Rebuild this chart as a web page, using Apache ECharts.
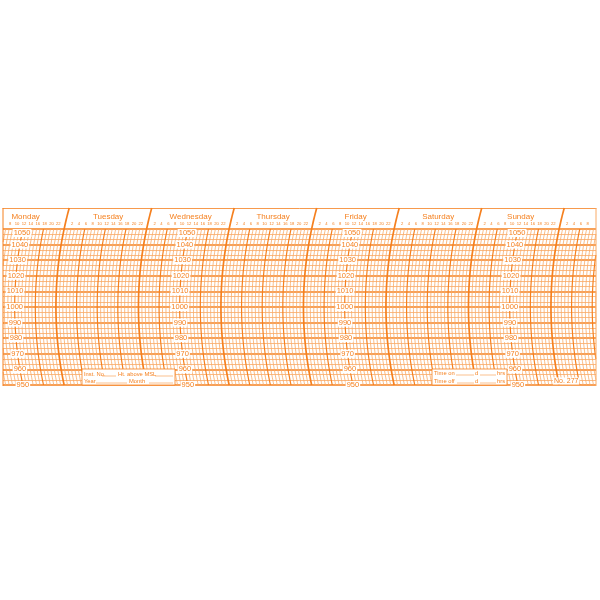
<!DOCTYPE html>
<html>
<head>
<meta charset="utf-8">
<script src="https://cdn.jsdelivr.net/npm/echarts@6/dist/echarts.min.js"></script>
<style>
html, body { margin: 0; background: #fff; }
#chart { width: 600px; height: 600px; }
</style>
</head>
<body>
<div id="chart"></div>
<script>
// weekly barograph chart, hours counted from Monday 00:00
var days = ['Monday', 'Tuesday', 'Wednesday', 'Thursday', 'Friday', 'Saturday', 'Sunday'];
var hourTicks = [2, 4, 6, 8, 10, 12, 14, 16, 18, 20, 22];
var pressureTicks = [1050, 1040, 1030, 1020, 1010, 1000, 990, 980, 970, 960, 950];
var scaleDays = [0, 2, 4, 6];          // days that carry the printed pressure scale (at noon)
var hourRange = [8.6, 181.1];          // part of the week visible on the strip
var chartNo = 'No. 277';

var ORANGE = '#f5801f';
var LIGHT = '#f9aa66';
var FONT = '"Liberation Sans", Arial, sans-serif';
var R = 376;                           // radius of the pen arc, px

// one vertical line per hour across the visible strip
var hourLines = [];
for (var h = 0; h <= 184; h++) hourLines.push([h]);

var dayNameData = days.map(function (d, i) { return [i * 24 + 12, i]; });
var hourLabelData = [];
for (var d = 0; d < 8; d++) {
	hourTicks.forEach(function (t) { hourLabelData.push([d * 24 + t, t]); });
}
var scaleData = [];
scaleDays.forEach(function (d) {
	pressureTicks.forEach(function (p) { scaleData.push([d * 24 + 12, p]); });
});

// x of the arc through (x0 at 1000 hPa) at pixel height y
function arcX(x0, y, y0) {
	var dy = y - y0;
	return x0 + R - Math.sqrt(R * R - dy * dy);
}

function renderArc(params, api) {
	var h = api.value(0);
	var cs = params.coordSys;
	var mid = api.coord([h, 1000]);
	var isDay = h % 24 === 0;
	var top = isDay ? cs.y - 21 : cs.y;
	var bottom = cs.y + cs.height;
	var n = 60, runs = [], run = [];
	for (var i = 0; i <= n; i++) {
		var y = top + (bottom - top) * i / n;
		var x = arcX(mid[0], y, mid[1]);
		if (x >= cs.x && x <= cs.x + cs.width) run.push([x, y]);
		else if (run.length) { runs.push(run); run = []; }
	}
	if (run.length) runs.push(run);
	var style;
	if (isDay) style = { stroke: ORANGE, lineWidth: 1.7, fill: null };
	else if (h % 6 === 0) style = { stroke: ORANGE, lineWidth: 1.2, fill: null };
	else style = { stroke: LIGHT, lineWidth: 0.8, fill: null };
	return {
		type: 'group',
		children: runs.filter(function (r) { return r.length > 1; }).map(function (r) {
			return { type: 'polyline', shape: { points: r }, style: style };
		})
	};
}

function topText(dy, size, isName) {
	return function (params, api) {
		var cs = params.coordSys;
		var mid = api.coord([api.value(0), 1000]);
		var y = cs.y - dy;
		var x = arcX(mid[0], y, mid[1]);
		var txt = isName ? days[api.value(1)] : String(api.value(1));
		if (x < cs.x + 4 || x > cs.x + cs.width - 2) return null;
		return {
			type: 'text',
			style: { text: txt, x: x, y: y, fill: ORANGE, font: size + 'px ' + FONT, align: 'center', verticalAlign: 'middle' }
		};
	};
}

function renderScale(params, api) {
	var p = api.value(1);
	var pt = api.coord([api.value(0), p]);
	var mid = api.coord([api.value(0), 1000]);
	var y = pt[1] + (p === 1050 ? 4 : 0);
	var x = arcX(mid[0], y, mid[1]);
	return {
		type: 'text',
		style: {
			text: String(p), x: x, y: y, fill: ORANGE, font: '7.5px ' + FONT,
			align: 'center', verticalAlign: 'middle', backgroundColor: '#fff', padding: [0, 1]
		}
	};
}

function note(x, y, text) {
	return { type: 'text', x: x, y: y, style: { text: text, fill: ORANGE, font: '5.8px ' + FONT, verticalAlign: 'middle' }, z: 20 };
}
function rule(x1, x2, y) {
	return { type: 'line', shape: { x1: x1, y1: y + 2, x2: x2, y2: y + 2 }, style: { stroke: ORANGE, lineWidth: 0.5 }, z: 20 };
}

var chart = echarts.init(document.getElementById('chart'));

var option = {
	animation: false,
	grid: { left: 3, right: 4, top: 229, bottom: 215 },
	xAxis: {
		type: 'value',
		min: hourRange[0],
		max: hourRange[1],
		position: 'top',
		offset: 21,
		axisLine: { show: true, lineStyle: { color: ORANGE, width: 0.8 } },
		axisTick: { show: false },
		axisLabel: { show: false },
		splitLine: { show: false }
	},
	yAxis: {
		type: 'value',
		min: 950,
		max: 1050,
		interval: 10,
		axisLine: { show: false },
		axisTick: { show: false },
		axisLabel: { show: false },
		splitLine: { show: true, lineStyle: { color: ORANGE, width: 1.6 } },
		minorTick: { show: false, splitNumber: 3 },
		minorSplitLine: { show: true, lineStyle: { color: LIGHT, width: 0.8 } }
	},
	graphic: [
		// strip edges
		{ type: 'line', shape: { x1: 3, y1: 208, x2: 3, y2: 386 }, style: { stroke: ORANGE, lineWidth: 1 }, z: 10 },
		{ type: 'line', shape: { x1: 596, y1: 208, x2: 596, y2: 386 }, style: { stroke: LIGHT, lineWidth: 1 }, z: 10 },
		// instrument box
		{ type: 'rect', shape: { x: 82, y: 369, width: 93, height: 16 }, style: { fill: '#fff', stroke: ORANGE, lineWidth: 0.8 }, z: 19 },
		note(84, 374, 'Inst. No.'), rule(102, 116, 374), note(118, 374, 'Ht. above MSL'), rule(155, 173, 374),
		note(84, 381, 'Year'), rule(96, 127, 381), note(129, 381, 'Month'), rule(149, 173, 381),
		// time box
		{ type: 'rect', shape: { x: 432, y: 369, width: 75, height: 16 }, style: { fill: '#fff', stroke: ORANGE, lineWidth: 0.8 }, z: 19 },
		note(434, 373, 'Time on'), rule(456, 474, 373), note(475, 373, 'd'), rule(480, 496, 373), note(497, 373, 'hrs'),
		note(434, 381, 'Time off'), rule(457, 474, 381), note(475, 381, 'd'), rule(480, 496, 381), note(497, 381, 'hrs'),
		{ type: 'text', x: 553, y: 381, style: { text: chartNo, fill: ORANGE, font: '7px ' + FONT, verticalAlign: 'middle', backgroundColor: '#fff', padding: [0, 1] }, z: 20 }
	],
	series: [
		{ type: 'custom', data: hourLines, renderItem: renderArc, z: 3, silent: true },
		{ type: 'custom', data: dayNameData, renderItem: topText(12, 8, true), z: 5, silent: true },
		{ type: 'custom', data: hourLabelData, renderItem: topText(5, 4.2, false), z: 5, silent: true },
		{ type: 'custom', data: scaleData, renderItem: renderScale, z: 6, silent: true }
	]
};

chart.setOption(option);
</script>
</body>
</html>
